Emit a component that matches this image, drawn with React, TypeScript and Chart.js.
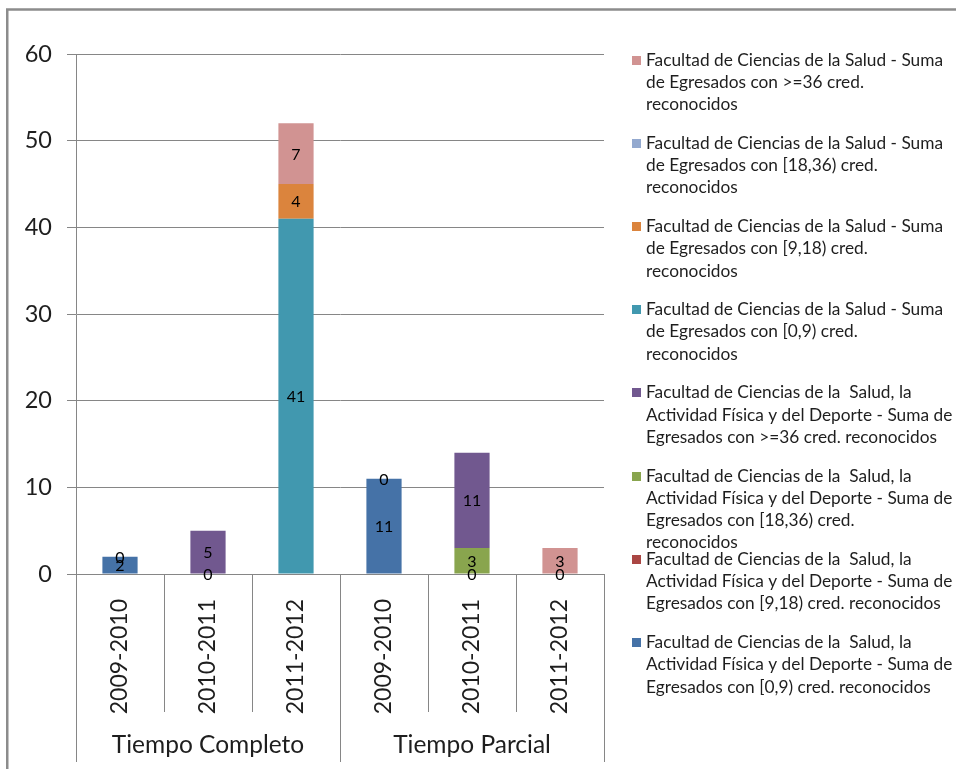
import React, { useEffect, useRef } from "react";
import { Chart, registerables } from "chart.js";

Chart.register(...registerables);

// ---- data ----
const categories = ["2009-2010", "2010-2011", "2011-2012", "2009-2010", "2010-2011", "2011-2012"];
const groups = ["Tiempo Completo", "Tiempo Parcial"];
const groupSizes = [3, 3];
const yMin = 0;
const yMax = 60;
const yStep = 10;

// bottom-to-top stacking order
const fcsafd_0_9 = [2, 0, null, 11, 0, null];
const fcsafd_9_18 = [null, null, null, null, null, null];
const fcsafd_18_36 = [null, null, null, null, 3, null];
const fcsafd_36 = [0, 5, null, 0, 11, null];
const fcs_0_9 = [null, null, 41, null, null, 0];
const fcs_9_18 = [null, null, 4, null, null, null];
const fcs_18_36 = [null, null, null, null, null, null];
const fcs_36 = [null, null, 7, null, null, 3];

const seriesValues = [fcsafd_0_9, fcsafd_9_18, fcsafd_18_36, fcsafd_36, fcs_0_9, fcs_9_18, fcs_18_36, fcs_36];

const seriesLabels = [
  ["Facultad de Ciencias de la  Salud, la", "Actividad Física y del Deporte - Suma de", "Egresados con [0,9) cred. reconocidos"],
  ["Facultad de Ciencias de la  Salud, la", "Actividad Física y del Deporte - Suma de", "Egresados con [9,18) cred. reconocidos"],
  ["Facultad de Ciencias de la  Salud, la", "Actividad Física y del Deporte - Suma de", "Egresados con [18,36) cred.", "reconocidos"],
  ["Facultad de Ciencias de la  Salud, la", "Actividad Física y del Deporte - Suma de", "Egresados con >=36 cred. reconocidos"],
  ["Facultad de Ciencias de la Salud - Suma", "de Egresados con [0,9) cred.", "reconocidos"],
  ["Facultad de Ciencias de la Salud - Suma", "de Egresados con [9,18) cred.", "reconocidos"],
  ["Facultad de Ciencias de la Salud - Suma", "de Egresados con [18,36) cred.", "reconocidos"],
  ["Facultad de Ciencias de la Salud - Suma", "de Egresados con >=36 cred.", "reconocidos"],
];

const seriesColors = ["#4572A7", "#AA4643", "#89A54E", "#71588F", "#4198AF", "#DB843D", "#93A9CF", "#D19392"];

const FONT = "Lato, 'Open Sans', sans-serif";
const GRID = "#868686";
const TEXT = "#1e1e1e";

const framePlugin = {
  id: "frame",
  beforeDraw(chart: any) {
    const { ctx, width, height } = chart;
    ctx.save();
    ctx.fillStyle = "#ffffff";
    ctx.fillRect(0, 0, width, height);
    ctx.strokeStyle = "#8c8c8c";
    ctx.lineWidth = 2.5;
    ctx.strokeRect(7.25, 9.5, width + 100, height + 100);
    ctx.restore();
  },
};

const dataLabelPlugin = {
  id: "dataLabels",
  afterDatasetsDraw(chart: any) {
    const { ctx } = chart;
    ctx.save();
    ctx.font = `16px ${FONT}`;
    ctx.fillStyle = "#000";
    ctx.textAlign = "center";
    ctx.textBaseline = "middle";
    chart.data.datasets.forEach((ds: any, di: number) => {
      const meta = chart.getDatasetMeta(di);
      meta.data.forEach((el: any, i: number) => {
        const v = ds.data[i];
        if (v === null || v === undefined) return;
        const y = (el.y + el.base) / 2;
        ctx.fillText(String(v), el.x, y + 1);
      });
    });
    ctx.restore();
  },
};

const axisPlugin = {
  id: "multiAxis",
  afterDraw(chart: any) {
    const { ctx, chartArea } = chart;
    const n = categories.length;
    const w = (chartArea.right - chartArea.left) / n;
    const bottom = chartArea.bottom;
    const boundaries: number[] = [0];
    let acc = 0;
    groupSizes.forEach((g) => {
      acc += g;
      boundaries.push(acc);
    });
    ctx.save();
    ctx.strokeStyle = GRID;
    ctx.lineWidth = 1;
    for (let k = 0; k <= n; k++) {
      const x = Math.round(chartArea.left + k * w) + 0.5;
      const end = boundaries.includes(k) ? 762 : 712;
      ctx.beginPath();
      ctx.moveTo(x, bottom);
      ctx.lineTo(x, end);
      ctx.stroke();
    }
    ctx.font = `24.5px ${FONT}`;
    ctx.fillStyle = TEXT;
    ctx.textAlign = "center";
    ctx.textBaseline = "middle";
    groups.forEach((g, gi) => {
      const x0 = chartArea.left + boundaries[gi] * w;
      const x1 = chartArea.left + boundaries[gi + 1] * w;
      ctx.fillText(g, (x0 + x1) / 2, 745);
    });
    ctx.restore();
  },
};

const legendPlugin = {
  id: "customLegend",
  afterDraw(chart: any) {
    const { ctx } = chart;
    ctx.save();
    ctx.font = `17.3px ${FONT}`;
    ctx.textBaseline = "middle";
    ctx.textAlign = "left";
    const order = seriesLabels.map((_, i) => i).reverse();
    order.forEach((si, idx) => {
      const y0 = 60 + idx * 83.2;
      ctx.fillStyle = seriesColors[si];
      ctx.fillRect(632, Math.round(y0 - 4.5), 9, 9);
      ctx.fillStyle = TEXT;
      seriesLabels[si].forEach((line, li) => {
        ctx.fillText(line, 646, y0 + li * 22.3);
      });
    });
    ctx.restore();
  },
};

export default function App() {
  const ref = useRef<HTMLCanvasElement | null>(null);
  useEffect(() => {
    document.body.style.margin = "0";
    const canvas = ref.current;
    if (!canvas) return;
    const chart = new Chart(canvas, {
      type: "bar",
      data: {
        labels: categories,
        datasets: seriesValues.map((vals, i) => ({
          label: seriesLabels[i].join(" "),
          data: vals as any,
          backgroundColor: seriesColors[i],
          borderWidth: 0,
          barPercentage: 0.4,
          categoryPercentage: 1.0,
        })),
      },
      options: {
        responsive: false,
        animation: false,
        devicePixelRatio: 1,
        layout: { padding: { top: 54, left: 0, right: 352, bottom: 0 } },
        plugins: {
          legend: { display: false },
          tooltip: { enabled: false },
        },
        scales: {
          x: {
            stacked: true,
            grid: { display: false },
            border: { display: false },
            ticks: {
              autoSkip: false,
              maxRotation: 90,
              minRotation: 90,
              padding: 17,
              color: TEXT,
              font: { family: FONT, size: 23 },
            },
            afterFit(scale: any) {
              scale.height = 195;
            },
          },
          y: {
            stacked: true,
            min: yMin,
            max: yMax,
            ticks: {
              stepSize: yStep,
              padding: 15,
              color: TEXT,
              font: { family: FONT, size: 23.5 },
            },
            grid: { color: GRID, tickLength: 9, drawTicks: true },
            border: { display: true, color: GRID },
            afterFit(scale: any) {
              scale.width = 76;
            },
          },
        },
      },
      plugins: [framePlugin, dataLabelPlugin, axisPlugin, legendPlugin],
    });
    return () => chart.destroy();
  }, []);
  return <canvas ref={ref} width={956} height={769} style={{ display: "block" }} />;
}
